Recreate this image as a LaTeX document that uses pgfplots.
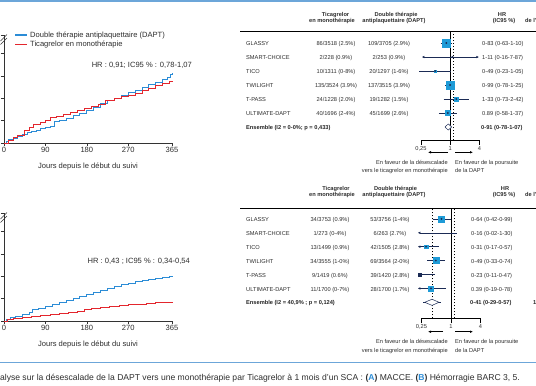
\documentclass[border=0pt]{standalone}
\usepackage{pgfplots}
\pgfplotsset{compat=1.18}
\usepackage{fontspec}
\setmainfont{Liberation Sans}
\usetikzlibrary{arrows.meta}
\definecolor{kmblue}{HTML}{2B8CD6}
\definecolor{kmred}{HTML}{E3262D}
\definecolor{sqblue}{HTML}{1E9BD7}
\definecolor{navy}{HTML}{1B2B55}
\definecolor{rulec}{HTML}{6CA6D9}
\definecolor{txt}{HTML}{2E2E2E}
\newcommand\fk{\fontsize{7.6}{8}\selectfont}
\newcommand\ff{\fontsize{5.7}{6}\selectfont}
\pgfplotsset{
 kmaxis/.style={width=168bp,height=108bp,scale only axis,xmin=0,xmax=365,ymin=0,ymax=4.83,
   axis x line=bottom,axis y line=left,axis line style={-,black!80,line width=0.6bp},
   xtick={0,90,180,270,365},ytick={0,1,2,3,4,4.83},yticklabels={},
   tick align=outside,major tick length=3bp,tick style={black!80,line width=0.6bp},
   xticklabel style={font=\fk,text=txt,inner sep=1.5bp},
   /pgf/number format/assume math mode=true,clip=false},
 fstyle/.style={scale only axis,xmin=0.25,xmax=4,
   axis x line=bottom,axis y line=none,axis line style={-,black,line width=0.6bp},
   xtick={0.25,1,4},xticklabels={{0,25},1,4},minor x tick num=0,
   tick align=outside,major tick length=5bp,tick style={black,line width=0.6bp},
   xticklabel style={font=\ff,text=txt,inner sep=1bp},clip=false},
}
\newcommand\study[5]{%
 \addplot[navy,line width=0.5bp] coordinates {(#2,#4) (#3,#4)};
 \addplot[only marks,mark=square*,mark size=#5,color=sqblue] coordinates {(#1,#4)};
 \addplot[only marks,mark=*,mark size=0.7bp,color=navy] coordinates {(#1,#4)};
}
\begin{document}
\begin{tikzpicture}
\useasboundingbox (0,0) rectangle (536bp,-386bp);
\fill[white] (0,0) rectangle (536bp,-386bp);
% rules
\draw[rulec,line width=1.5bp] (0,-1bp) -- (536bp,-1bp);
\draw[rulec,line width=1.2bp] (0,-362.5bp) -- (536bp,-362.5bp);

% ===== KM top
\begin{axis}[kmaxis,at={(4bp,-143bp)},anchor=south west]
\addplot[const plot,kmblue,line width=1bp] coordinates {(0,0) (5,0.08) (10,0.16) (20,0.22) (30,0.3) (40,0.36) (50,0.45) (60,0.52) (70,0.58) (80,0.66) (90,0.70) (100,0.76) (110,0.95) (120,1.02) (135,1.10) (150,1.22) (165,1.33) (180,1.45) (195,1.58) (210,1.75) (225,1.90) (240,2.00) (255,2.12) (270,2.25) (285,2.35) (300,2.47) (315,2.60) (330,2.72) (345,2.85) (355,2.95) (362,3.05) (365,3.14)};
\addplot[const plot,kmred,line width=1bp] coordinates {(0,0) (10,0.12) (20,0.25) (30,0.35) (45,0.55) (55,0.70) (65,0.82) (80,0.92) (90,1.00) (100,1.12) (115,1.18) (130,1.28) (145,1.36) (160,1.44) (175,1.54) (190,1.62) (205,1.74) (220,1.88) (240,2.00) (255,2.08) (270,2.12) (285,2.22) (300,2.33) (315,2.45) (330,2.58) (345,2.66) (360,2.74) (365,2.77)};
\end{axis}
\draw[black!80,line width=0.6bp] (0.5bp,-41bp) -- (7bp,-34.5bp) (0.5bp,-44.5bp) -- (7bp,-38bp);
\draw[kmblue,line width=1.2bp] (15bp,-35bp) -- (27bp,-35bp);
\draw[kmred,line width=1.2bp] (15bp,-44.3bp) -- (27bp,-44.3bp);
\node[anchor=mid west,inner sep=0,font=\fk,text=txt] at (30bp,-35bp) {Double thérapie antiplaquettaire (DAPT)};
\node[anchor=mid west,inner sep=0,font=\fk,text=txt] at (30bp,-44.3bp) {Ticagrelor en monothérapie};
\node[anchor=mid east,inner sep=0,font=\fk,text=txt] at (192bp,-65bp) {HR : 0,91; IC95 \% : 0,78-1,07};
\node[anchor=mid,inner sep=0,font=\fk,text=txt] at (88bp,-166bp) {Jours depuis le début du suivi};

% ===== KM bottom
\begin{axis}[kmaxis,at={(4bp,-321bp)},anchor=south west]
\addplot[const plot,kmblue,line width=1bp] coordinates {(0,0) (5,0.07) (15,0.15) (25,0.22) (40,0.30) (55,0.38) (62,0.52) (75,0.58) (90,0.66) (105,0.74) (120,0.84) (135,0.93) (150,1.00) (165,1.09) (180,1.18) (195,1.27) (210,1.36) (225,1.45) (240,1.53) (255,1.62) (270,1.68) (285,1.76) (300,1.82) (315,1.87) (330,1.92) (345,1.96) (360,1.99) (365,2.03)};
\addplot[const plot,kmred,line width=1bp] coordinates {(0,0) (8,0.06) (20,0.12) (40,0.16) (60,0.20) (80,0.24) (100,0.29) (120,0.33) (140,0.38) (160,0.44) (175,0.52) (190,0.57) (210,0.62) (230,0.66) (250,0.70) (270,0.72) (290,0.75) (310,0.79) (330,0.82) (350,0.84) (365,0.86)};
\end{axis}
\draw[black!80,line width=0.6bp] (0.5bp,-219bp) -- (7bp,-212.5bp) (0.5bp,-222.5bp) -- (7bp,-216bp);
\node[anchor=mid east,inner sep=0,font=\fk,text=txt] at (190bp,-261bp) {HR : 0,43 ; IC95 \% : 0,34-0,54};
\node[anchor=mid,inner sep=0,font=\fk,text=txt] at (88bp,-344.3bp) {Jours depuis le début du suivi};

% ===== Forest top
\begin{axis}[xmode=log,log basis x=2,fstyle,width=58.5bp,at={(421bp,-140bp)},anchor=south west,height=109bp,ymin=0.07,ymax=7.86]
\addplot[black,line width=0.6bp] coordinates {(1,0.07) (1,7.86)};
\addplot[black,line width=0.5bp,dash pattern=on 1.5bp off 1.5bp] coordinates {(1.17,0.07) (1.17,7.86)};
\study{0.83}{0.63}{1.10}{7}{3.8bp}
\addplot[navy,line width=0.5bp,{Latex[length=2.5bp,width=2.5bp]}-{Latex[length=2.5bp,width=2.5bp]}] coordinates {(0.26,6) (3.9,6)};
\addplot[only marks,mark=*,mark size=0.8bp,color=navy] coordinates {(1.11,6)};
\study{0.49}{0.23}{1.05}{5}{1.1bp}
\study{0.99}{0.78}{1.25}{4}{4bp}
\study{1.33}{0.73}{2.42}{3}{1.7bp}
\study{0.89}{0.58}{1.37}{2}{2.7bp}
\addplot[draw=navy,fill=white,line width=0.5bp] coordinates {(0.78,1) (0.91,1.22) (1.07,1) (0.91,0.78) (0.78,1)};
\end{axis}

% ===== Forest bottom
\begin{axis}[xmode=log,log basis x=2,fstyle,at={(421.5bp,-318.3bp)},anchor=south west,width=59bp,height=110bp,ymin=-0.15,ymax=7.76]
\addplot[black,line width=0.6bp] coordinates {(1,-0.15) (1,7.76)};
\addplot[black,line width=0.5bp,dash pattern=on 1.5bp off 1.5bp] coordinates {(1.17,-0.15) (1.17,7.76)};
\addplot[black,line width=0.5bp,dash pattern=on 1.5bp off 1.5bp] coordinates {(0.41,-0.15) (0.41,7.76)};
\study{0.64}{0.42}{0.99}{7}{3bp}
\addplot[navy,line width=0.5bp,{Latex[length=2.5bp,width=2.5bp]}-] coordinates {(0.21,6) (1.30,6)};
\addplot[navy,line width=0.5bp,{Latex[length=2.5bp,width=2.5bp]}-] coordinates {(0.21,5) (0.57,5)};
\addplot[only marks,mark=square*,mark size=1.8bp,color=sqblue] coordinates {(0.31,5)};
\addplot[only marks,mark=*,mark size=0.7bp,color=navy] coordinates {(0.31,5)};
\study{0.49}{0.33}{0.74}{4}{3bp}
\addplot[navy,line width=0.5bp,{Latex[length=2.5bp,width=2.5bp]}-] coordinates {(0.21,3) (0.47,3)};
\addplot[only marks,mark=square*,mark size=1.4bp,color=navy] coordinates {(0.23,3)};
\addplot[navy,line width=0.5bp,{Latex[length=2.5bp,width=2.5bp]}-] coordinates {(0.21,2) (0.78,2)};
\addplot[only marks,mark=square*,mark size=2.3bp,color=sqblue] coordinates {(0.39,2)};
\addplot[only marks,mark=*,mark size=0.7bp,color=navy] coordinates {(0.39,2)};
\addplot[navy,line width=0.5bp] coordinates {(0.27,1) (0.62,1)};
\addplot[draw=navy,fill=white,line width=0.5bp] coordinates {(0.29,1) (0.41,1.22) (0.57,1) (0.41,0.78) (0.29,1)};
\end{axis}

% ===== Forest texts top
\begin{scope}[every node/.style={inner sep=0,font=\ff,text=txt}]
\draw[black,line width=0.6bp] (240bp,-31bp) -- (536bp,-31bp);
\node[anchor=mid,font=\ff\bfseries] at (335.5bp,-14bp) {Ticagrelor};
\node[anchor=mid,font=\ff\bfseries] at (332bp,-19.5bp) {en monothérapie};
\node[anchor=mid,font=\ff\bfseries] at (396bp,-14bp) {Double thérapie};
\node[anchor=mid,font=\ff\bfseries] at (394bp,-19.5bp) {antiplaquettaire (DAPT)};
\node[anchor=mid,font=\ff\bfseries] at (502bp,-14bp) {HR};
\node[anchor=mid,font=\ff\bfseries] at (504bp,-19.5bp) {(IC95 \%)};
\node[anchor=mid west,font=\ff\bfseries] at (525bp,-19.5bp) {de l’étude};
\foreach \n/\a/\b/\h [count=\i] in {GLASSY/86\slash3518 (2.5\%)/109\slash3705 (2.9\%)/0-83 (0-63-1-10),
 SMART-CHOICE/2\slash228 (0.9\%)/2\slash253 (0.9\%)/1-11 (0-16-7-87),
 TICO/10\slash1311 (0-8\%)/20\slash1297 (1-6\%)/0-49 (0-23-1-05),
 TWILIGHT/135\slash3524 (3.9\%)/137\slash3515 (3.9\%)/0-99 (0-78-1-25),
 T-PASS/24\slash1228 (2.0\%)/19\slash1282 (1.5\%)/1-33 (0-73-2-42),
 ULTIMATE-DAPT/40\slash1696 (2-4\%)/45\slash1699 (2.6\%)/0.89 (0-58-1-37)}{
  \node[anchor=mid west] at (246bp,{-43bp-(\i-1)*14bp}) {\n};
  \node[anchor=mid] at (336bp,{-43bp-(\i-1)*14bp}) {\a};
  \node[anchor=mid] at (389bp,{-43bp-(\i-1)*14bp}) {\b};
  \node[anchor=mid west] at (482bp,{-43bp-(\i-1)*14bp}) {\h};
}
\node[anchor=mid west,font=\ff\bfseries,text=black!85] at (246bp,-127bp) {Ensemble (I2 = 0-0\%; p = 0,433)};
\node[anchor=mid west,font=\ff\bfseries,text=black!85] at (481bp,-127bp) {0-91 (0-78-1-07)};
\draw[-{Latex[length=3bp,width=2.5bp]},line width=0.5bp] (448bp,-152.3bp) -- (428bp,-152.3bp);
\draw[-{Latex[length=3bp,width=2.5bp]},line width=0.5bp] (455bp,-152.3bp) -- (473bp,-152.3bp);
\node[anchor=mid east] at (448bp,-161.7bp) {En faveur de la désescalade};
\node[anchor=mid east] at (448bp,-170bp) {vers le ticagrelor en monothérapie};
\node[anchor=mid west] at (455bp,-161.7bp) {En faveur de la poursuite};
\node[anchor=mid west] at (455bp,-170bp) {de la DAPT};

% ===== Forest texts bottom
\draw[black,line width=0.6bp] (240bp,-208.3bp) -- (536bp,-208.3bp);
\node[anchor=mid,font=\ff\bfseries] at (336bp,-188.3bp) {Ticagrelor};
\node[anchor=mid,font=\ff\bfseries] at (332bp,-194bp) {en monothérapie};
\node[anchor=mid,font=\ff\bfseries] at (395.5bp,-188.3bp) {Double thérapie};
\node[anchor=mid,font=\ff\bfseries] at (394bp,-194bp) {antiplaquettaire (DAPT)};
\node[anchor=mid,font=\ff\bfseries] at (505bp,-188.3bp) {HR};
\node[anchor=mid,font=\ff\bfseries] at (504bp,-194bp) {(IC95 \%)};
\node[anchor=mid west,font=\ff\bfseries] at (525bp,-194bp) {de l’étude};
\foreach \n/\a/\b/\h [count=\i] in {GLASSY/34\slash3753 (0.9\%)/53\slash3756 (1-4\%)/0-64 (0-42-0-99),
 SMART-CHOICE/1\slash273 (0-4\%)/6\slash263 (2.7\%)/0-16 (0-02-1-30),
 TICO/13\slash1499 (0.9\%)/42\slash1505 (2.8\%)/0-31 (0-17-0-57),
 TWILIGHT/34\slash3555 (1-0\%)/69\slash3564 (2-0\%)/0-49 (0-33-0-74),
 T-PASS/9\slash1419 (0.6\%)/39\slash1420 (2.8\%)/0-23 (0-11-0-47),
 ULTIMATE-DAPT/11\slash1700 (0-7\%)/28\slash1700 (1.7\%)/0.39 (0-19-0-78)}{
  \node[anchor=mid west] at (246bp,{-219bp-(\i-1)*13.9bp}) {\n};
  \node[anchor=mid] at (330bp,{-219bp-(\i-1)*13.9bp}) {\a};
  \node[anchor=mid] at (390bp,{-219bp-(\i-1)*13.9bp}) {\b};
  \node[anchor=mid west] at (471bp,{-219bp-(\i-1)*13.9bp}) {\h};
}
\node[anchor=mid west,font=\ff\bfseries,text=black!85] at (246bp,-302.3bp) {Ensemble (I2 = 40,9\% ; p = 0,124)};
\node[anchor=mid west,font=\ff\bfseries,text=black!85] at (470bp,-302.3bp) {0-41 (0-29-0-57)};
\node[anchor=mid west,font=\ff\bfseries,text=black!85] at (533bp,-302.3bp) {100};
\draw[-{Latex[length=3bp,width=2.5bp]},line width=0.5bp] (443bp,-331.7bp) -- (428bp,-331.7bp);
\draw[-{Latex[length=3bp,width=2.5bp]},line width=0.5bp] (455bp,-331.7bp) -- (473bp,-331.7bp);
\node[anchor=mid east] at (448bp,-341bp) {En faveur de la désescalade};
\node[anchor=mid east] at (448bp,-350bp) {vers le ticagrelor en monothérapie};
\node[anchor=mid west] at (455bp,-341bp) {En faveur de la poursuite};
\node[anchor=mid west] at (455bp,-350bp) {de la DAPT};
\end{scope}

% caption
\node[anchor=mid east,inner sep=0,font=\fontsize{8.6}{9}\selectfont,text=txt] at (520bp,-378bp) {Analyse sur la désescalade de la DAPT vers une monothérapie par Ticagrelor à 1 mois d’un SCA : \textbf{(\textcolor{kmblue}{A})} MACCE. \textbf{(\textcolor{kmblue}{B})} Hémorragie BARC 3, 5.};
\end{tikzpicture}
\end{document}
